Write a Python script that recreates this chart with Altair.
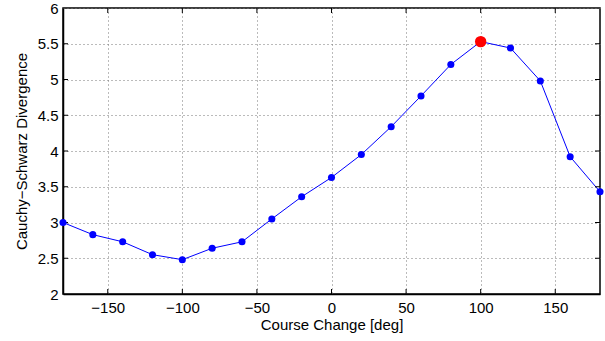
import altair as alt
import pandas as pd

course = [-180, -160, -140, -120, -100, -80, -60, -40, -20, 0, 20, 40, 60, 80, 100, 120, 140, 160, 180]
divergence = [3.00, 2.83, 2.73, 2.55, 2.48, 2.64, 2.73, 3.05, 3.36, 3.63, 3.95, 4.34, 4.77, 5.21, 5.53, 5.44, 4.98, 3.92, 3.43]
peak_course = [100]
peak_value = [5.53]
x_ticks = [-150, -100, -50, 0, 50, 100, 150]
y_ticks = [2.5, 3, 3.5, 4, 4.5, 5, 5.5]

df = pd.DataFrame({"course": course, "div": divergence})
peak = pd.DataFrame({"course": peak_course, "div": peak_value})
xt = pd.DataFrame({"course": x_ticks})
yt = pd.DataFrame({"div": y_ticks})

W, H = 537, 286
FONT = "Liberation Sans"
FS = 15

xs = alt.Scale(domain=[-180, 180], nice=False, zero=False)
ys = alt.Scale(domain=[2, 6], nice=False, zero=False)

xaxis = alt.Axis(values=[-150, -100, -50, 0, 50, 100, 150], title="Course Change [deg]",
                 grid=True, gridDash=[1, 3], gridColor="#777777", gridWidth=1,
                 tickSize=0, labelPadding=6, labelFontSize=FS, titleFontSize=FS,
                 labelFont=FONT, titleFont=FONT, titleFontWeight="normal",
                 labelColor="black", titleColor="black", titlePadding=2,
                 domainColor="black", domainWidth=1.5, labelOverlap=False)
yaxis = alt.Axis(values=[2, 2.5, 3, 3.5, 4, 4.5, 5, 5.5, 6], format="~g",
                 title="Cauchy\u2212Schwarz Divergence",
                 grid=True, gridDash=[1, 3], gridColor="#777777", gridWidth=1,
                 tickSize=0, labelPadding=5, labelFontSize=FS, titleFontSize=FS,
                 labelFont=FONT, titleFont=FONT, titleFontWeight="normal",
                 labelColor="black", titleColor="black", titlePadding=8,
                 domainColor="black", domainWidth=1.5, labelFlush=False,
                 labelOverlap=False)

X = alt.X("course:Q", scale=xs, axis=xaxis)
Y = alt.Y("div:Q", scale=ys, axis=yaxis)

base = alt.Chart(df)
line = base.mark_line(color="#0000ff", strokeWidth=1).encode(x=X, y=Y)
pts = base.mark_circle(color="#0000ff", opacity=1, size=50).encode(x=X, y=Y)
red = alt.Chart(peak).mark_circle(color="#ff0000", opacity=1, size=130).encode(x=X, y=Y)

tk = 5
xb = alt.Chart(xt).mark_rule(color="black", strokeWidth=1).encode(
    x=X, y=alt.value(H), y2=alt.value(H - tk))
xtop = alt.Chart(xt).mark_rule(color="black", strokeWidth=1).encode(
    x=X, y=alt.value(0), y2=alt.value(tk))
yl = alt.Chart(yt).mark_rule(color="black", strokeWidth=1).encode(
    y=Y, x=alt.value(0), x2=alt.value(tk))
yr = alt.Chart(yt).mark_rule(color="black", strokeWidth=1).encode(
    y=Y, x=alt.value(W), x2=alt.value(W - tk))

chart = alt.layer(line, xb, xtop, yl, yr, pts, red).properties(
    width=W, height=H,
    autosize=alt.AutoSizeParams(type="none"),
    padding={"left": 63, "top": 8, "right": 5, "bottom": 47},
    background="white",
).configure_view(stroke="black", strokeWidth=1.5).configure_axis(labelOverlap=False)

chart.save("out.html", embed_options={"renderer": "svg", "actions": False})
